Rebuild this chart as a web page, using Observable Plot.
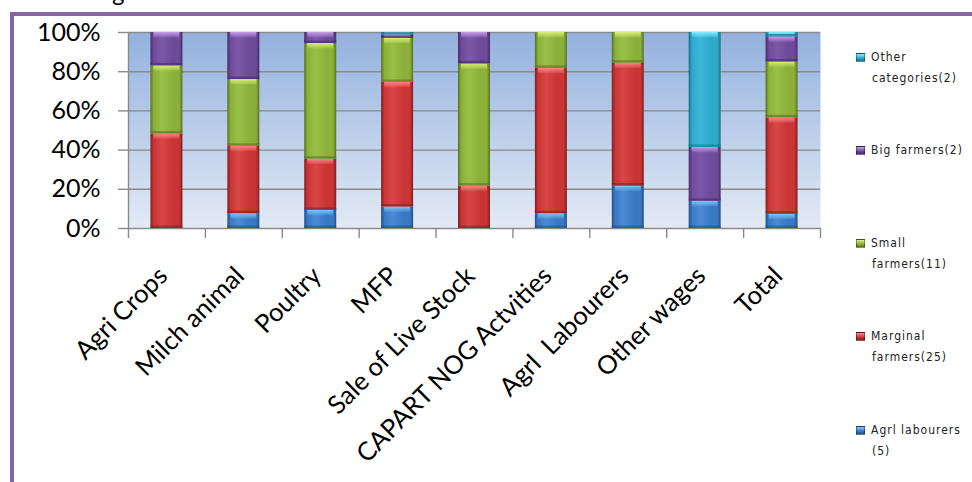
<!DOCTYPE html>
<html><head><meta charset="utf-8">
<script src="https://cdn.jsdelivr.net/npm/d3@7"></script>
<script src="https://cdn.jsdelivr.net/npm/@observablehq/plot@0.6"></script>
<style>
body{margin:0;background:#fff;}
#wrap{position:relative;width:972px;height:482px;overflow:hidden;font-family:Lato,sans-serif;}
#frame{position:absolute;left:10px;top:12px;width:980px;height:500px;border-top:4px solid #8466a4;border-left:4px solid #8466a4;}
#cut{position:absolute;left:112px;top:-20px;font:24px/24px Lato;color:#000;}
#chart{position:absolute;left:0;top:0;}
#legend{position:absolute;left:0;top:0;font-family:"DejaVu Sans Condensed","DejaVu Sans",sans-serif;font-size:12px;color:#222;letter-spacing:1px;}
.sw{position:absolute;width:7px;height:7px;border:1px solid rgba(0,0,0,0.35);}
.lbl{position:absolute;line-height:21px;white-space:nowrap;}
</style></head>
<body><div id="wrap"><div id="frame"></div><div id="cut">g</div><div id="chart"></div><div id="legend"></div></div>
<script>
const categories = ["Agri Crops","Milch animal","Poultry","MFP","Sale of Live Stock","CAPART NOG Actvities","Agrl  Labourers","Other wages","Total"];
const series = ["Agrl labourers (5)","Marginal farmers(25)","Small farmers(11)","Big farmers(2)","Other categories(2)"];
const legendLines = [["Agrl labourers","(5)"],["Marginal","farmers(25)"],["Small","farmers(11)"],["Big farmers(2)"],["Other","categories(2)"]];
const agrlLabourers = [0, 7.6, 9.3, 11, 0, 7.6, 21.7, 13.9, 7.3];
const marginalFarmers = [48.3, 34.4, 26.1, 63.6, 21.7, 74.1, 62.7, 0, 49.2];
const smallFarmers = [34.7, 34, 59, 22.4, 62.3, 18.3, 15.6, 0, 28.5];
const bigFarmers = [17, 24, 5.6, 1.8, 16, 0, 0, 27.5, 12.8];
const otherCategories = [0, 0, 0, 1.2, 0, 0, 0, 58.6, 2.2];
const yTicks = [0, 20, 40, 60, 80, 100];

const values = [agrlLabourers, marginalFarmers, smallFarmers, bigFarmers, otherCategories];
const pal = [
  {edge:"#234f86", body:"#3a78c4", light:"#4d8ad4", cap:"#86c8f7"},
  {edge:"#7e2020", body:"#c93434", light:"#d84646", cap:"#ff8c8c"},
  {edge:"#56721f", body:"#8ab03a", light:"#99c046", cap:"#dcf27a"},
  {edge:"#452c66", body:"#6e4a9a", light:"#7d58aa", cap:"#c9a2ee"},
  {edge:"#166f88", body:"#2ea8cb", light:"#3cb8da", cap:"#88f0ff"}
];

// stacked rows
const rows = [];
categories.forEach((c, i) => {
  let acc = 0;
  values.forEach((arr, s) => {
    const v = arr[i];
    if (v > 0) rows.push({cat: c, s, y1: acc, y2: acc + v});
    acc += v;
  });
});

const W = 972, H = 482, ml = 128, mr = 152;
const step = (W - ml - mr) / categories.length;

const defs = () => {
  const d = d3.create("svg:defs");
  const bg = d.append("linearGradient").attr("id","bg").attr("x1",0).attr("y1",0).attr("x2",0).attr("y2",1);
  bg.append("stop").attr("offset","0%").attr("stop-color","#93b1de");
  bg.append("stop").attr("offset","100%").attr("stop-color","#e3eaf5");
  pal.forEach((p, i) => {
    const g = d.append("linearGradient").attr("id","g"+i).attr("x1",0).attr("x2",1).attr("y1",0).attr("y2",0);
    [[0,p.edge],[0.1,p.body],[0.35,p.light],[0.7,p.body],[0.9,p.body],[1,p.edge]].forEach(([o,c]) =>
      g.append("stop").attr("offset", o).attr("stop-color", c));
    const v = d.append("linearGradient").attr("id","v"+i).attr("x1",0).attr("x2",0).attr("y1",0).attr("y2",1);
    v.append("stop").attr("offset",0).attr("stop-color",p.cap).attr("stop-opacity",0.95);
    v.append("stop").attr("offset",1).attr("stop-color",p.cap).attr("stop-opacity",0.15);
  });
  return d.node();
};

const marks = [
  defs,
  Plot.frame({fill: "url(#bg)", stroke: "none"}),
  Plot.ruleY(yTicks, {stroke: "#8a8a8a", strokeWidth: 1.4}),
  Plot.ruleX([categories[0]], {y1: 0, y2: 100, dx: -step/2, stroke: "#8a8a8a", strokeWidth: 1.4}),
];
pal.forEach((p, i) => {
  const r = rows.filter(d => d.s === i);
  marks.push(Plot.barY(r, {x: "cat", y1: "y1", y2: "y2", fill: `url(#g${i})`}));
  marks.push(Plot.barY(r, {x: "cat", y1: d => Math.max(d.y1, d.y2 - 2.8), y2: "y2", insetLeft: 3, insetRight: 3, fill: `url(#v${i})`}));
  marks.push(Plot.barY(r, {x: "cat", y1: "y1", y2: d => Math.min(d.y2, d.y1 + 1.2), fill: p.edge, fillOpacity: 0.6}));
});
marks.push(
  Plot.axisY({ticks: yTicks, tickFormat: d => d + "%", tickSize: 10, tickPadding: 18, fontSize: 25, stroke: "#8a8a8a", strokeWidth: 1.4, fill: "#000"}),
  Plot.axisX({tickSize: 10, tickFormat: () => "", dx: -step/2, stroke: "#8a8a8a", strokeWidth: 1.4}),
  Plot.axisX({ticks: [categories[categories.length-1]], tickSize: 10, tickFormat: () => "", dx: step/2, stroke: "#8a8a8a", strokeWidth: 1.4}),
  Plot.text(categories, {x: d => d, frameAnchor: "bottom", rotate: -45, textAnchor: "end", lineAnchor: "bottom", fontSize: 25.5, fill: "#000", dx: 2, dy: 49})
);

const chart = Plot.plot({
  width: W, height: H,
  marginLeft: ml, marginRight: mr, marginTop: 32, marginBottom: 254,
  style: {background: "transparent", fontFamily: "Lato", overflow: "visible"},
  x: {domain: categories, paddingInner: 0.584, paddingOuter: 0.292, round: false, label: null},
  y: {domain: [0, 100], label: null},
  marks
});
document.getElementById("chart").appendChild(chart);

// legend (top entry is last series)
const leg = document.getElementById("legend");
const ys = [430, 336, 243, 150, 57];
series.forEach((s, i) => {
  const sw = document.createElement("div");
  sw.className = "sw";
  sw.style.left = "856px"; sw.style.top = (ys[i] - 4) + "px";
  sw.style.background = `linear-gradient(180deg, ${pal[i].cap}, ${pal[i].body} 60%, ${pal[i].edge})`;
  leg.appendChild(sw);
  legendLines[i].forEach((t, k) => {
    const l = document.createElement("div");
    l.className = "lbl";
    l.textContent = t;
    l.style.left = (k === 0 ? 871 : 872) + "px";
    l.style.top = (ys[i] - 10.5 + k * 21) + "px";
    leg.appendChild(l);
  });
});
</script></body></html>
